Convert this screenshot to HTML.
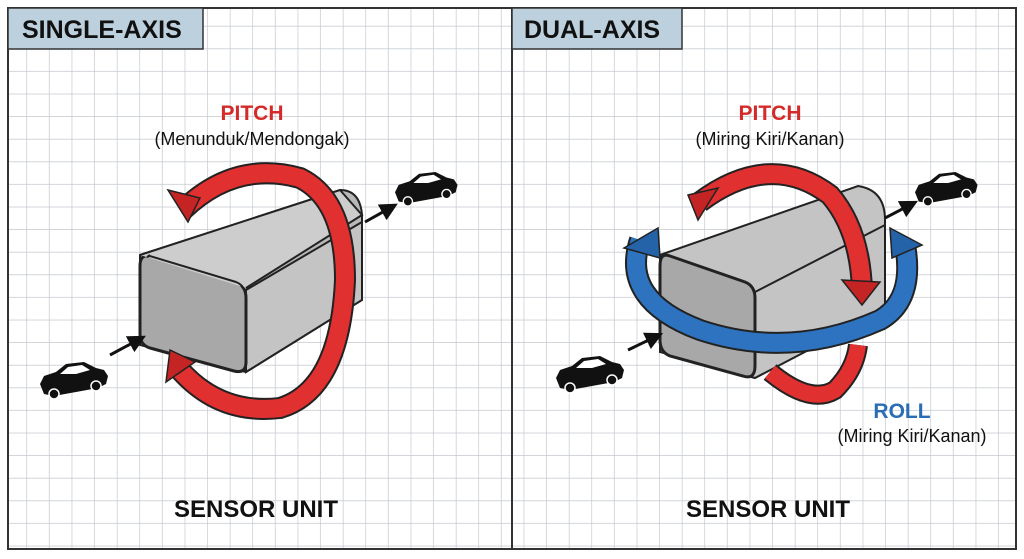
<!DOCTYPE html>
<html><head><meta charset="utf-8"><style>
html,body{margin:0;padding:0;background:#fff;}
svg{display:block;}
text{font-family:"Liberation Sans","DejaVu Sans",sans-serif;}
</style></head><body>
<svg width="1024" height="559" viewBox="0 0 1024 559" xmlns="http://www.w3.org/2000/svg">
<defs>
<pattern id="g" x="4.5" y="4" width="22.6" height="22.6" patternUnits="userSpaceOnUse">
<path d="M22.6 0V22.6M0 22.6H22.6" stroke="#c3c8ce" stroke-width="1.4" fill="none"/>
</pattern>
<g id="car">
<path d="M0 22 L4 14 L16 10 L26 2 L44 0 L56 6 L64 8 L68 14 L66 22 L58 26 L14 34 L4 32 Z" fill="#111"/>
<path d="M20 12 L28 5 L42 3 L50 8 L36 12 Z" fill="#fff"/>
<circle cx="14" cy="32" r="5" fill="#111" stroke="#fff" stroke-width="1.5"/>
<circle cx="56" cy="24" r="5" fill="#111" stroke="#fff" stroke-width="1.5"/>
</g>
<marker id="ah" markerWidth="6" markerHeight="6" refX="3" refY="3" orient="auto"><path d="M0 0L6 3L0 6Z" fill="#111"/></marker>
</defs>
<rect x="8" y="8" width="1008" height="541" fill="url(#g)"/>
<rect x="8" y="8" width="1008" height="541" fill="none" stroke="#333" stroke-width="2"/>
<line x1="512" y1="8" x2="512" y2="549" stroke="#333" stroke-width="2"/>
<rect x="8" y="8" width="195" height="41" fill="#bcd0dd" stroke="#333" stroke-width="1.5"/>
<text x="22" y="38" font-size="25" font-weight="bold" fill="#111">SINGLE-AXIS</text>
<rect x="512" y="8" width="170" height="41" fill="#bcd0dd" stroke="#333" stroke-width="1.5"/>
<text x="524" y="38" font-size="25" font-weight="bold" fill="#111">DUAL-AXIS</text>

<!-- LEFT -->
<text x="252" y="120" font-size="21" font-weight="bold" fill="#d42a2a" text-anchor="middle">PITCH</text>
<text x="252" y="145" font-size="18" fill="#111" text-anchor="middle">(Menunduk/Mendongak)</text>
<path d="M140 255 L340 190 Q360 190 362 215 L362 300 L246 372 L140 345 Z" fill="#b8b8b8" stroke="#222" stroke-width="2"/>
<path d="M246 290 L362 222 L362 300 L246 372 Z" fill="#c4c4c4" stroke="#222" stroke-width="2"/>
<path d="M150 256 L236 282 Q246 286 246 298 L246 362 Q246 374 234 371 L150 348 Q140 345 140 334 L140 266 Q140 254 150 256 Z" fill="#a8a8a8" stroke="#222" stroke-width="3"/>
<path d="M140 255 L340 190 L362 215 L246 288" fill="#cdcdcd" stroke="#222" stroke-width="2"/>
<path d="M150 255 Q145 258 150 256 L236 282 Q246 286 246 298" fill="none" stroke="#222" stroke-width="2"/>
<path d="M183 210 Q235 160 300 178 Q345 200 345 280 Q340 390 280 408 Q220 415 180 370" fill="none" stroke="#222" stroke-width="22"/>
<path d="M183 210 Q235 160 300 178 Q345 200 345 280 Q340 390 280 408 Q220 415 180 370" fill="none" stroke="#e03030" stroke-width="18"/>
<path d="M168 190 L200 198 L188 222 Z" fill="#c52424" stroke="#222" stroke-width="1.5"/>
<path d="M166 382 L170 350 L195 362 Z" fill="#c52424" stroke="#222" stroke-width="1.5"/>
<line x1="110" y1="355" x2="138" y2="340" stroke="#111" stroke-width="3" marker-end="url(#ah)"/>
<line x1="365" y1="222" x2="390" y2="208" stroke="#111" stroke-width="3" marker-end="url(#ah)"/>
<use href="#car" transform="translate(40,362)"/>
<use href="#car" transform="translate(395,172) scale(0.92)"/>
<text x="256" y="517" font-size="24" font-weight="bold" fill="#111" text-anchor="middle">SENSOR UNIT</text>

<!-- RIGHT -->
<text x="770" y="120" font-size="21" font-weight="bold" fill="#d42a2a" text-anchor="middle">PITCH</text>
<text x="770" y="145" font-size="18" fill="#111" text-anchor="middle">(Miring Kiri/Kanan)</text>
<path d="M660 255 L858 186 Q885 190 885 220 L885 310 L755 378 L660 352 Z" fill="#c4c4c4" stroke="#222" stroke-width="2"/>
<path d="M670 256 L745 282 Q755 286 755 298 L755 366 Q755 380 743 376 L670 356 Q660 352 660 340 L660 266 Q660 252 670 256 Z" fill="#a8a8a8" stroke="#222" stroke-width="3"/>
<line x1="755" y1="292" x2="885" y2="225" stroke="#222" stroke-width="2"/>
<path d="M700 202 Q770 150 830 195 Q860 230 862 290" fill="none" stroke="#222" stroke-width="22"/>
<path d="M700 202 Q770 150 830 195 Q860 230 862 290" fill="none" stroke="#e03030" stroke-width="18"/>
<path d="M842 280 L880 282 L862 305 Z" fill="#c52424" stroke="#222" stroke-width="1.5"/>
<path d="M688 195 L718 188 L698 220 Z" fill="#c52424" stroke="#222" stroke-width="1.5"/>
<path d="M770 372 Q810 405 835 390 Q855 370 858 345" fill="none" stroke="#222" stroke-width="20"/>
<path d="M770 372 Q810 405 835 390 Q855 370 858 345" fill="none" stroke="#e03030" stroke-width="16"/>
<path d="M640 240 Q620 300 700 330 Q790 360 880 320 Q915 300 905 245" fill="none" stroke="#222" stroke-width="22"/>
<path d="M640 240 Q620 300 700 330 Q790 360 880 320 Q915 300 905 245" fill="none" stroke="#2d73bf" stroke-width="18"/>
<path d="M624 248 L658 228 L660 258 Z" fill="#2563a8" stroke="#222" stroke-width="1.5"/>
<path d="M890 228 L922 245 L892 258 Z" fill="#2563a8" stroke="#222" stroke-width="1.5"/>
<line x1="628" y1="350" x2="655" y2="337" stroke="#111" stroke-width="3" marker-end="url(#ah)"/>
<line x1="885" y1="218" x2="910" y2="205" stroke="#111" stroke-width="3" marker-end="url(#ah)"/>
<use href="#car" transform="translate(556,356)"/>
<use href="#car" transform="translate(915,172) scale(0.92)"/>
<text x="902" y="418" font-size="21" font-weight="bold" fill="#2a6db5" text-anchor="middle">ROLL</text>
<text x="912" y="442" font-size="18" fill="#111" text-anchor="middle">(Miring Kiri/Kanan)</text>
<text x="768" y="517" font-size="24" font-weight="bold" fill="#111" text-anchor="middle">SENSOR UNIT</text>
</svg>
</body></html>
